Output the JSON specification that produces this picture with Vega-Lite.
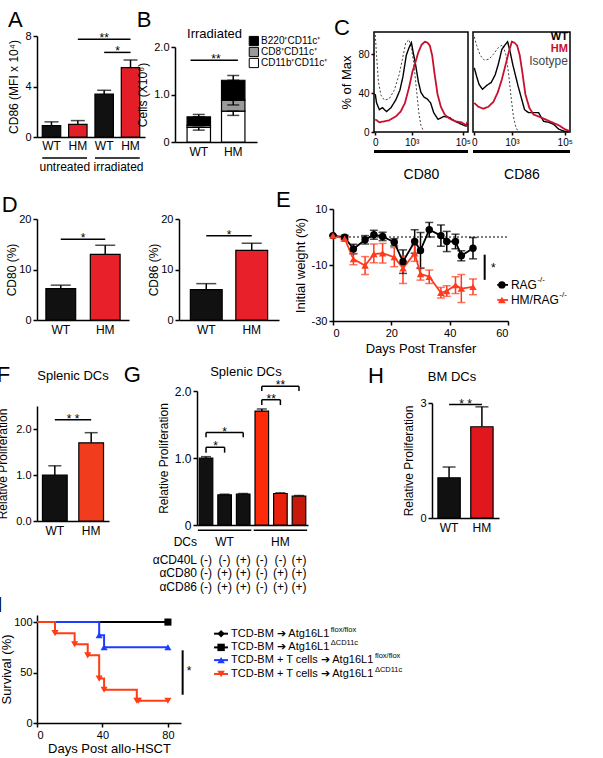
{
"$schema":"https://vega.github.io/schema/vega-lite/v6.json",
"background":"white",
"padding":{"left":-4,"top":0,"right":2,"bottom":2},
"config":{
 "font":"Liberation Sans",
 "view":{"stroke":null},
 "axis":{"domainColor":"black","domainWidth":1.5,"tickColor":"black","tickWidth":1.5,"tickSize":4,"labelColor":"black","labelFontSize":11,"labelFont":"Liberation Sans","titleFont":"Liberation Sans","titleFontSize":12,"titleFontWeight":"normal","titleColor":"black","grid":false,"labelPadding":2,"titlePadding":4},
 "axisX":{"labelAngle":0},
 "title":{"fontSize":22,"fontWeight":"normal","anchor":"start","color":"black","font":"Liberation Sans","offset":2},
 "bar":{"stroke":"black","strokeWidth":1.2},
 "text":{"font":"Liberation Sans","color":"black"},
 "tick":{"thickness":1.5,"color":"black"},
 "rule":{"color":"black","strokeWidth":1.5}
},
"datasets":{
 "hist":[
  {"p":"CD80","s":"Isotype","u":1.58,"v":100},{"p":"CD80","s":"Isotype","u":1.63,"v":79},{"p":"CD80","s":"Isotype","u":1.70,"v":52},{"p":"CD80","s":"Isotype","u":1.80,"v":38},{"p":"CD80","s":"Isotype","u":1.93,"v":33},{"p":"CD80","s":"Isotype","u":2.12,"v":34},{"p":"CD80","s":"Isotype","u":2.32,"v":43},{"p":"CD80","s":"Isotype","u":2.51,"v":59},{"p":"CD80","s":"Isotype","u":2.64,"v":75},{"p":"CD80","s":"Isotype","u":2.77,"v":92},{"p":"CD80","s":"Isotype","u":2.90,"v":95},{"p":"CD80","s":"Isotype","u":3.00,"v":85},{"p":"CD80","s":"Isotype","u":3.09,"v":69},{"p":"CD80","s":"Isotype","u":3.18,"v":46},{"p":"CD80","s":"Isotype","u":3.28,"v":20},{"p":"CD80","s":"Isotype","u":3.36,"v":7},{"p":"CD80","s":"Isotype","u":3.48,"v":0},
  {"p":"CD80","s":"WT","u":1.58,"v":39},{"p":"CD80","s":"WT","u":1.63,"v":30},{"p":"CD80","s":"WT","u":1.74,"v":23},{"p":"CD80","s":"WT","u":1.86,"v":25},{"p":"CD80","s":"WT","u":2.02,"v":21},{"p":"CD80","s":"WT","u":2.19,"v":25},{"p":"CD80","s":"WT","u":2.38,"v":33},{"p":"CD80","s":"WT","u":2.54,"v":43},{"p":"CD80","s":"WT","u":2.66,"v":57},{"p":"CD80","s":"WT","u":2.79,"v":79},{"p":"CD80","s":"WT","u":2.90,"v":87},{"p":"CD80","s":"WT","u":2.99,"v":92},{"p":"CD80","s":"WT","u":3.06,"v":82},{"p":"CD80","s":"WT","u":3.15,"v":70},{"p":"CD80","s":"WT","u":3.26,"v":52},{"p":"CD80","s":"WT","u":3.36,"v":41},{"p":"CD80","s":"WT","u":3.48,"v":36},{"p":"CD80","s":"WT","u":3.61,"v":34},{"p":"CD80","s":"WT","u":3.74,"v":30},{"p":"CD80","s":"WT","u":3.86,"v":20},{"p":"CD80","s":"WT","u":4.03,"v":13},{"p":"CD80","s":"WT","u":4.25,"v":16},{"p":"CD80","s":"WT","u":4.47,"v":15},{"p":"CD80","s":"WT","u":4.70,"v":11},{"p":"CD80","s":"WT","u":4.94,"v":8},{"p":"CD80","s":"WT","u":5.12,"v":6},{"p":"CD80","s":"WT","u":5.19,"v":9},
  {"p":"CD80","s":"HM","u":1.58,"v":13},{"p":"CD80","s":"HM","u":1.74,"v":10},{"p":"CD80","s":"HM","u":1.93,"v":11},{"p":"CD80","s":"HM","u":2.12,"v":12},{"p":"CD80","s":"HM","u":2.38,"v":16},{"p":"CD80","s":"HM","u":2.57,"v":21},{"p":"CD80","s":"HM","u":2.74,"v":30},{"p":"CD80","s":"HM","u":2.90,"v":46},{"p":"CD80","s":"HM","u":3.03,"v":62},{"p":"CD80","s":"HM","u":3.15,"v":72},{"p":"CD80","s":"HM","u":3.26,"v":82},{"p":"CD80","s":"HM","u":3.39,"v":90},{"p":"CD80","s":"HM","u":3.52,"v":93},{"p":"CD80","s":"HM","u":3.62,"v":92},{"p":"CD80","s":"HM","u":3.71,"v":89},{"p":"CD80","s":"HM","u":3.80,"v":79},{"p":"CD80","s":"HM","u":3.90,"v":59},{"p":"CD80","s":"HM","u":4.01,"v":39},{"p":"CD80","s":"HM","u":4.14,"v":26},{"p":"CD80","s":"HM","u":4.29,"v":18},{"p":"CD80","s":"HM","u":4.47,"v":14},{"p":"CD80","s":"HM","u":4.70,"v":11},{"p":"CD80","s":"HM","u":4.94,"v":10},{"p":"CD80","s":"HM","u":5.12,"v":7},{"p":"CD80","s":"HM","u":5.19,"v":11},
  {"p":"CD86","s":"Isotype","u":1.58,"v":98},{"p":"CD86","s":"Isotype","u":1.67,"v":89},{"p":"CD86","s":"Isotype","u":1.80,"v":79},{"p":"CD86","s":"Isotype","u":1.96,"v":74},{"p":"CD86","s":"Isotype","u":2.14,"v":75},{"p":"CD86","s":"Isotype","u":2.30,"v":80},{"p":"CD86","s":"Isotype","u":2.49,"v":87},{"p":"CD86","s":"Isotype","u":2.65,"v":90},{"p":"CD86","s":"Isotype","u":2.77,"v":80},{"p":"CD86","s":"Isotype","u":2.87,"v":62},{"p":"CD86","s":"Isotype","u":2.97,"v":36},{"p":"CD86","s":"Isotype","u":3.06,"v":16},{"p":"CD86","s":"Isotype","u":3.15,"v":5},{"p":"CD86","s":"Isotype","u":3.25,"v":0},
  {"p":"CD86","s":"WT","u":1.58,"v":66},{"p":"CD86","s":"WT","u":1.67,"v":57},{"p":"CD86","s":"WT","u":1.76,"v":49},{"p":"CD86","s":"WT","u":1.89,"v":44},{"p":"CD86","s":"WT","u":2.05,"v":48},{"p":"CD86","s":"WT","u":2.22,"v":51},{"p":"CD86","s":"WT","u":2.37,"v":59},{"p":"CD86","s":"WT","u":2.49,"v":70},{"p":"CD86","s":"WT","u":2.62,"v":85},{"p":"CD86","s":"WT","u":2.75,"v":90},{"p":"CD86","s":"WT","u":2.84,"v":93},{"p":"CD86","s":"WT","u":2.94,"v":82},{"p":"CD86","s":"WT","u":3.03,"v":70},{"p":"CD86","s":"WT","u":3.13,"v":59},{"p":"CD86","s":"WT","u":3.23,"v":48},{"p":"CD86","s":"WT","u":3.35,"v":36},{"p":"CD86","s":"WT","u":3.48,"v":23},{"p":"CD86","s":"WT","u":3.63,"v":20},{"p":"CD86","s":"WT","u":3.82,"v":20},{"p":"CD86","s":"WT","u":4.01,"v":20},{"p":"CD86","s":"WT","u":4.20,"v":11},{"p":"CD86","s":"WT","u":4.39,"v":10},{"p":"CD86","s":"WT","u":4.58,"v":8},{"p":"CD86","s":"WT","u":4.77,"v":3},{"p":"CD86","s":"WT","u":4.96,"v":1},{"p":"CD86","s":"WT","u":5.15,"v":0},
  {"p":"CD86","s":"HM","u":1.58,"v":30},{"p":"CD86","s":"HM","u":1.73,"v":26},{"p":"CD86","s":"HM","u":1.92,"v":24},{"p":"CD86","s":"HM","u":2.11,"v":26},{"p":"CD86","s":"HM","u":2.30,"v":31},{"p":"CD86","s":"HM","u":2.47,"v":41},{"p":"CD86","s":"HM","u":2.62,"v":54},{"p":"CD86","s":"HM","u":2.77,"v":70},{"p":"CD86","s":"HM","u":2.90,"v":84},{"p":"CD86","s":"HM","u":3.00,"v":93},{"p":"CD86","s":"HM","u":3.10,"v":92},{"p":"CD86","s":"HM","u":3.20,"v":89},{"p":"CD86","s":"HM","u":3.30,"v":79},{"p":"CD86","s":"HM","u":3.41,"v":59},{"p":"CD86","s":"HM","u":3.51,"v":39},{"p":"CD86","s":"HM","u":3.66,"v":25},{"p":"CD86","s":"HM","u":3.82,"v":18},{"p":"CD86","s":"HM","u":4.01,"v":16},{"p":"CD86","s":"HM","u":4.27,"v":13},{"p":"CD86","s":"HM","u":4.52,"v":10},{"p":"CD86","s":"HM","u":4.77,"v":7},{"p":"CD86","s":"HM","u":5.00,"v":3},{"p":"CD86","s":"HM","u":5.18,"v":1}
 ],
 "E":[
  {"s":"RAG","d":0,"v":0.5,"lo":0.5,"hi":0.5},{"s":"RAG","d":4,"v":-0.1,"lo":-0.8,"hi":0.6},{"s":"RAG","d":7,"v":-4.3,"lo":-6.0,"hi":-2.6},{"s":"RAG","d":11,"v":-1.0,"lo":-2.5,"hi":0.5},{"s":"RAG","d":14,"v":0.8,"lo":-0.8,"hi":2.4},{"s":"RAG","d":17,"v":0.2,"lo":-1.3,"hi":1.7},{"s":"RAG","d":21,"v":-1.9,"lo":-3.2,"hi":-0.6},{"s":"RAG","d":24,"v":-8.8,"lo":-13.0,"hi":-4.6},{"s":"RAG","d":28,"v":-1.6,"lo":-5.8,"hi":2.6},{"s":"RAG","d":30,"v":-4.8,"lo":-11.2,"hi":1.6},{"s":"RAG","d":33,"v":2.6,"lo":0.0,"hi":5.2},{"s":"RAG","d":37,"v":0.5,"lo":-3.3,"hi":4.3},{"s":"RAG","d":39,"v":-1.6,"lo":-5.2,"hi":2.0},{"s":"RAG","d":42,"v":-1.6,"lo":-4.2,"hi":1.0},{"s":"RAG","d":44,"v":-6.7,"lo":-8.5,"hi":-4.9},{"s":"RAG","d":48,"v":-4.0,"lo":-7.8,"hi":-0.2},
  {"s":"HM/RAG","d":0,"v":0.5,"lo":0.5,"hi":0.5},{"s":"HM/RAG","d":4,"v":-0.6,"lo":-1.4,"hi":0.2},{"s":"HM/RAG","d":7,"v":-7.9,"lo":-9.9,"hi":-5.9},{"s":"HM/RAG","d":11,"v":-10.2,"lo":-13.4,"hi":-7.0},{"s":"HM/RAG","d":14,"v":-6.1,"lo":-9.2,"hi":-2.5},{"s":"HM/RAG","d":17,"v":-5.8,"lo":-9.3,"hi":-2.3},{"s":"HM/RAG","d":21,"v":-7.2,"lo":-10.6,"hi":-3.8},{"s":"HM/RAG","d":24,"v":-11.2,"lo":-16.6,"hi":-6.8},{"s":"HM/RAG","d":28,"v":-5.8,"lo":-8.7,"hi":-2.9},{"s":"HM/RAG","d":30,"v":-13.2,"lo":-15.4,"hi":-11.0},{"s":"HM/RAG","d":33,"v":-14.2,"lo":-16.6,"hi":-11.8},{"s":"HM/RAG","d":37,"v":-19.9,"lo":-21.8,"hi":-18.0},{"s":"HM/RAG","d":39,"v":-19.3,"lo":-21.2,"hi":-17.4},{"s":"HM/RAG","d":42,"v":-17.2,"lo":-20.2,"hi":-14.2},{"s":"HM/RAG","d":44,"v":-18.4,"lo":-23.4,"hi":-13.4},{"s":"HM/RAG","d":48,"v":-17.8,"lo":-20.6,"hi":-15.0}
 ],
 "I":[
  {"g":"BMf","d":0,"s":100},{"g":"BMf","d":80,"s":100},
  {"g":"BMd","d":0,"s":100},{"g":"BMd","d":80,"s":100},
  {"g":"Tf","d":0,"s":100},{"g":"Tf","d":38,"s":87},{"g":"Tf","d":41,"s":75},{"g":"Tf","d":80,"s":75},
  {"g":"Td","d":0,"s":100},{"g":"Td","d":11,"s":89},{"g":"Td","d":23,"s":78},{"g":"Td","d":31,"s":67},{"g":"Td","d":38,"s":44},{"g":"Td","d":41,"s":33},{"g":"Td","d":61,"s":22},{"g":"Td","d":62,"s":22},{"g":"Td","d":80,"s":22}
 ],
 "empty":[]
},
"resolve":{"scale":{"color":"independent","shape":"independent","strokeDash":"independent","strokeWidth":"independent"},"legend":{"color":"independent","shape":"independent","strokeDash":"independent","strokeWidth":"independent"}},
"spacing":8,
"vconcat":[
 {"spacing":-11,
  "resolve":{"scale":{"color":"independent","shape":"independent","strokeDash":"independent","strokeWidth":"independent"},"legend":{"color":"independent","shape":"independent","strokeDash":"independent","strokeWidth":"independent"}},
  "vconcat":[
  {"spacing":-9,
   "resolve":{"scale":{"color":"independent","shape":"independent","strokeDash":"independent","strokeWidth":"independent"},"legend":{"color":"independent","shape":"independent","strokeDash":"independent","strokeWidth":"independent"}},
   "hconcat":[
   {"spacing":8,
    "vconcat":[
     {"width":1,"height":1,"data":{"name":"empty"},"mark":"point"},
     {"title":{"text":"A","offset":-2},
      "width":108,"height":101,
      "data":{"values":[{"bar":"uWT","g":"WT","v":0.9,"err":1.2},{"bar":"uHM","g":"HM","v":1.0,"err":1.3},{"bar":"iWT","g":"WT","v":3.4,"err":3.7},{"bar":"iHM","g":"HM","v":5.5,"err":6.1}]},
      "layer":[
       {"mark":{"type":"rule"},"encoding":{
         "x":{"field":"bar","type":"nominal","bandPosition":0.5,"scale":{"domain":["uWT","uHM","iWT","iHM"],"paddingInner":0.3,"paddingOuter":0.2},"axis":{"labelExpr":"substring(datum.label, 1)","title":"untreated irradiated","titlePadding":10,"labelFontSize":12,"titleFontSize":12,"ticks":false,"labelPadding":3}},
         "y":{"field":"v","type":"quantitative","scale":{"domain":[0,8]},"axis":{"title":"CD86 (MFI x 10⁴)","values":[0,2,4,6,8]}},
         "y2":{"field":"err"}}},
       {"mark":{"type":"tick","size":14},"encoding":{
         "x":{"field":"bar","type":"nominal","scale":{"domain":["uWT","uHM","iWT","iHM"]}},
         "y":{"field":"err","type":"quantitative","scale":{"domain":[0,8]}}}},
       {"mark":{"type":"bar"},"encoding":{
         "x":{"field":"bar","type":"nominal","scale":{"domain":["uWT","uHM","iWT","iHM"]}},
         "y":{"field":"v","type":"quantitative","scale":{"domain":[0,8]}},
         "color":{"field":"g","type":"nominal","scale":{"domain":["WT","HM"],"range":["#111111","#e31e26"]},"legend":null}}},
       {"data":{"values":[{"b1":"uWT","b2":"uHM"},{"b1":"iWT","b2":"iHM"}]},"mark":{"type":"rule"},"encoding":{
         "x":{"field":"b1","type":"nominal","bandPosition":0,"scale":{"domain":["uWT","uHM","iWT","iHM"]}},
         "x2":{"field":"b2","bandPosition":1},
         "y":{"datum":-1.67}}},
       {"data":{"values":[{"b1":"uHM","b2":"iHM","y":7.75},{"b1":"iWT","b2":"iHM","y":6.7}]},"mark":{"type":"rule"},"encoding":{
         "x":{"field":"b1","type":"nominal","bandPosition":0.5,"scale":{"domain":["uWT","uHM","iWT","iHM"]}},
         "x2":{"field":"b2","bandPosition":0.5},
         "y":{"field":"y","type":"quantitative","scale":{"domain":[0,8]}}}},
       {"data":{"values":[{"b":"iWT","t":"**","y":7.75}]},"mark":{"type":"text","fontSize":12,"baseline":"alphabetic","dy":3},"encoding":{
         "x":{"field":"b","type":"nominal","bandPosition":0.5,"scale":{"domain":["uWT","uHM","iWT","iHM"]}},
         "y":{"field":"y","type":"quantitative","scale":{"domain":[0,8]}},
         "text":{"field":"t"}}},
       {"data":{"values":[{"b":"iHM","t":"*","y":6.7}]},"mark":{"type":"text","fontSize":12,"baseline":"alphabetic","dy":3},"encoding":{
         "x":{"field":"b","type":"nominal","bandPosition":-0.2,"scale":{"domain":["uWT","uHM","iWT","iHM"]}},
         "y":{"field":"y","type":"quantitative","scale":{"domain":[0,8]}},
         "text":{"field":"t"}}}
      ]}
    ]},
   {"spacing":5,
    "resolve":{"scale":{"color":"independent","shape":"independent","strokeDash":"independent","strokeWidth":"independent"},"legend":{"color":"independent","shape":"independent","strokeDash":"independent","strokeWidth":"independent"}},
    "hconcat":[
    {"spacing":8,
     "vconcat":[
      {"width":1,"height":1,"data":{"name":"empty"},"mark":"point"},
      {"title":{"text":"B","offset":-4},
       "width":82,"height":95,
       "layer":[
        {"data":{"values":[{"g":"WT","pop":"CD11b⁺CD11c⁺","lvl":1,"v":0.31},{"g":"WT","pop":"CD8⁺CD11c⁺","lvl":2,"v":0.04},{"g":"WT","pop":"B220⁺CD11c⁺","lvl":3,"v":0.18},{"g":"HM","pop":"CD11b⁺CD11c⁺","lvl":1,"v":0.65},{"g":"HM","pop":"CD8⁺CD11c⁺","lvl":2,"v":0.23},{"g":"HM","pop":"B220⁺CD11c⁺","lvl":3,"v":0.42}]},
         "mark":{"type":"bar"},
         "encoding":{
          "x":{"field":"g","type":"nominal","scale":{"domain":["WT","HM"],"paddingInner":0.32,"paddingOuter":0.35},"axis":{"title":null,"labelFontSize":12,"ticks":false,"labelPadding":4}},
          "y":{"field":"v","type":"quantitative","stack":"zero","scale":{"domain":[0,2]},"axis":{"title":"Cells (X10⁶)","values":[0,0.5,1,1.5,2],"labelExpr":"datum.value == 0 ? '0' : format(datum.value, '.1f')"}},
          "order":{"field":"lvl","type":"quantitative","sort":"ascending"},
          "color":{"field":"pop","type":"nominal","scale":{"domain":["B220⁺CD11c⁺","CD8⁺CD11c⁺","CD11b⁺CD11c⁺"],"range":["#000000","#9a9a9a","#ffffff"]},"legend":null}}},
        {"data":{"values":[{"g":"WT","lo":0.53,"hi":0.58},{"g":"WT","lo":0.25,"hi":0.31},{"g":"HM","lo":1.30,"hi":1.40},{"g":"HM","lo":0.56,"hi":0.65},{"g":"HM","lo":0.78,"hi":0.88}]},
         "layer":[
          {"mark":{"type":"rule"},"encoding":{"x":{"field":"g","type":"nominal","bandPosition":0.5,"scale":{"domain":["WT","HM"]}},"y":{"field":"lo","type":"quantitative","scale":{"domain":[0,2]}},"y2":{"field":"hi"}}},
          {"mark":{"type":"tick","size":12},"encoding":{"x":{"field":"g","type":"nominal","scale":{"domain":["WT","HM"]}},"y":{"field":"lo","type":"quantitative","scale":{"domain":[0,2]}}}},
          {"mark":{"type":"tick","size":12},"encoding":{"x":{"field":"g","type":"nominal","scale":{"domain":["WT","HM"]}},"y":{"field":"hi","type":"quantitative","scale":{"domain":[0,2]}}}}
         ]},
        {"data":{"values":[{"b1":"WT","b2":"HM","y":1.72}]},"mark":{"type":"rule"},"encoding":{
          "x":{"field":"b1","type":"nominal","bandPosition":0.15,"scale":{"domain":["WT","HM"]}},
          "x2":{"field":"b2","bandPosition":0.7},
          "y":{"field":"y","type":"quantitative","scale":{"domain":[0,2]}}}},
        {"data":{"values":[{"t":"**","y":1.72}]},"mark":{"type":"text","fontSize":12,"baseline":"alphabetic","dy":3},"encoding":{
          "y":{"field":"y","type":"quantitative","scale":{"domain":[0,2]}},"text":{"field":"t"}}},
        {"data":{"values":[{"b":"WT","t":"Irradiated","y":2.27}]},"mark":{"type":"text","fontSize":13,"align":"left"},"encoding":{
          "x":{"field":"b","type":"nominal","bandPosition":0,"scale":{"domain":["WT","HM"]}},
          "y":{"field":"y","type":"quantitative","scale":{"domain":[0,2]}},"text":{"field":"t"}}},
        {"data":{"values":[{"b":"HM"}]},"mark":{"type":"point","shape":"square","filled":true,"size":85,"fill":"#000000","stroke":"black","strokeWidth":1,"opacity":1},"encoding":{"x":{"field":"b","type":"nominal","bandPosition":1.38,"scale":{"domain":["WT","HM"]}},"y":{"datum":2.126}}},
        {"data":{"values":[{"b":"HM"}]},"mark":{"type":"point","shape":"square","filled":true,"size":85,"fill":"#9a9a9a","stroke":"black","strokeWidth":1,"opacity":1},"encoding":{"x":{"field":"b","type":"nominal","bandPosition":1.38,"scale":{"domain":["WT","HM"]}},"y":{"datum":1.895}}},
        {"data":{"values":[{"b":"HM"}]},"mark":{"type":"point","shape":"square","filled":true,"size":85,"fill":"#ffffff","stroke":"black","strokeWidth":1,"opacity":1},"encoding":{"x":{"field":"b","type":"nominal","bandPosition":1.38,"scale":{"domain":["WT","HM"]}},"y":{"datum":1.663}}},
        {"data":{"values":[{"b":"HM","t":"B220⁺CD11c⁺"}]},"mark":{"type":"text","fontSize":10,"align":"left"},"encoding":{"x":{"field":"b","type":"nominal","bandPosition":1.69,"scale":{"domain":["WT","HM"]}},"y":{"datum":2.126},"text":{"field":"t"}}},
        {"data":{"values":[{"b":"HM","t":"CD8⁺CD11c⁺"}]},"mark":{"type":"text","fontSize":10,"align":"left"},"encoding":{"x":{"field":"b","type":"nominal","bandPosition":1.69,"scale":{"domain":["WT","HM"]}},"y":{"datum":1.895},"text":{"field":"t"}}},
        {"data":{"values":[{"b":"HM","t":"CD11b⁺CD11c⁺"}]},"mark":{"type":"text","fontSize":10,"align":"left"},"encoding":{"x":{"field":"b","type":"nominal","bandPosition":1.69,"scale":{"domain":["WT","HM"]}},"y":{"datum":1.663},"text":{"field":"t"}}}
       ]}
     ]},
    {"spacing":15,
     "vconcat":[
      {"width":1,"height":1,"data":{"name":"empty"},"mark":"point"},
      {"spacing":-5,
       "resolve":{"scale":{"color":"independent","shape":"independent","strokeDash":"independent","strokeWidth":"independent"},"legend":{"color":"independent","shape":"independent","strokeDash":"independent","strokeWidth":"independent"}},
       "hconcat":[
        {"title":{"text":"C","dx":-7,"offset":-8},
         "width":94,"height":100,
         "view":{"stroke":"black","strokeWidth":1.5},
         "layer":[
          {"data":{"name":"hist"},"transform":[{"filter":"datum.p == 'CD80'"}],
           "mark":{"type":"line"},
           "encoding":{
            "x":{"field":"u","type":"quantitative","scale":{"domain":[1.53,5.2],"nice":false,"zero":false},"axis":{"values":[1.58,1.93,3,4,5],"labelExpr":"datum.value < 1.7 ? '0' : datum.value < 2.5 ? '10²' : datum.value < 3.5 ? '10³' : datum.value < 4.5 ? '10⁴' : '10⁵'","title":"CD80","titleFontSize":14,"titlePadding":20,"labelFontSize":10,"tickSize":3,"domain":false,"labelOverlap":false,"labelFlush":false}},
            "y":{"field":"v","type":"quantitative","scale":{"domain":[0,103],"nice":false},"axis":{"values":[0,20,40,60,80,100],"title":"% of Max","titleFontSize":13,"labelFontSize":10,"tickSize":3,"domain":false}},
            "color":{"field":"s","type":"nominal","scale":{"domain":["Isotype","WT","HM"],"range":["#444444","#000000","#c8102e"]},"legend":null},
            "strokeDash":{"field":"s","type":"nominal","scale":{"domain":["Isotype","WT","HM"],"range":[[2,2],[1,0],[1,0]]},"legend":null},
            "strokeWidth":{"field":"s","type":"nominal","scale":{"domain":["Isotype","WT","HM"],"range":[1,1.8,1.8]},"legend":null}}},
          {"data":{"values":[{}]},"mark":{"type":"rule","strokeWidth":3},"encoding":{"x":{"datum":1.53},"x2":{"datum":5.2},"y":{"datum":-20}}}
         ]},
        {"width":97,"height":100,
         "view":{"stroke":"black","strokeWidth":1.5},
         "layer":[
          {"data":{"name":"hist"},"transform":[{"filter":"datum.p == 'CD86'"}],
           "mark":{"type":"line"},
           "encoding":{
            "x":{"field":"u","type":"quantitative","scale":{"domain":[1.53,5.2],"nice":false,"zero":false},"axis":{"values":[1.58,1.93,3,4,5],"labelExpr":"datum.value < 1.7 ? '0' : datum.value < 2.5 ? '10²' : datum.value < 3.5 ? '10³' : datum.value < 4.5 ? '10⁴' : '10⁵'","title":"CD86","titleFontSize":14,"titlePadding":20,"labelFontSize":10,"tickSize":3,"domain":false,"labelOverlap":false,"labelFlush":false}},
            "y":{"field":"v","type":"quantitative","scale":{"domain":[0,103],"nice":false},"axis":null},
            "color":{"field":"s","type":"nominal","scale":{"domain":["Isotype","WT","HM"],"range":["#444444","#000000","#c8102e"]},"legend":null},
            "strokeDash":{"field":"s","type":"nominal","scale":{"domain":["Isotype","WT","HM"],"range":[[2,2],[1,0],[1,0]]},"legend":null},
            "strokeWidth":{"field":"s","type":"nominal","scale":{"domain":["Isotype","WT","HM"],"range":[1,1.8,1.8]},"legend":null}}},
          {"data":{"values":[{}]},"mark":{"type":"rule","strokeWidth":3},"encoding":{"x":{"datum":1.53},"x2":{"datum":5.2},"y":{"datum":-20}}},
          {"data":{"values":[{"s":"WT","v":98},{"s":"HM","v":86}]},"mark":{"type":"text","align":"right","fontWeight":"bold","fontSize":11},"encoding":{"x":{"datum":5.12},"y":{"field":"v","type":"quantitative","scale":{"domain":[0,103],"nice":false}},"text":{"field":"s"},"color":{"field":"s","type":"nominal","scale":{"domain":["Isotype","WT","HM"],"range":["#444444","#000000","#c8102e"]},"legend":null}}},
          {"data":{"values":[{"s":"Isotype","v":73}]},"mark":{"type":"text","align":"right","fontSize":12},"encoding":{"x":{"datum":5.12},"y":{"field":"v","type":"quantitative","scale":{"domain":[0,103],"nice":false}},"text":{"field":"s"},"color":{"field":"s","type":"nominal","scale":{"domain":["Isotype","WT","HM"],"range":["#444444","#000000","#c8102e"]},"legend":null}}}
         ]}
       ]}
     ]}
   ]}
  ]},
  {"spacing":-3,
   "resolve":{"scale":{"color":"independent","shape":"independent","strokeDash":"independent","strokeWidth":"independent"},"legend":{"color":"independent","shape":"independent","strokeDash":"independent","strokeWidth":"independent"}},
   "hconcat":[
   {"spacing":11,
    "vconcat":[
     {"width":1,"height":1,"data":{"name":"empty"},"mark":"point"},
     {"spacing":18,
      "hconcat":[
       {"title":{"text":"D","dx":-4,"offset":-4},
        "width":92,"height":101,
        "data":{"values":[{"g":"WT","v":6.2,"err":6.9},{"g":"HM","v":13.0,"err":14.8}]},
        "layer":[
         {"mark":{"type":"rule"},"encoding":{"x":{"field":"g","type":"nominal","bandPosition":0.5,"scale":{"domain":["WT","HM"],"paddingInner":0.33,"paddingOuter":0.2},"axis":{"title":null,"labelFontSize":12,"ticks":false,"labelPadding":4}},"y":{"field":"v","type":"quantitative","scale":{"domain":[0,20]},"axis":{"title":"CD80 (%)","values":[0,5,10,15,20],"titlePadding":0}},"y2":{"field":"err"}}},
         {"mark":{"type":"tick","size":20},"encoding":{"x":{"field":"g","type":"nominal","scale":{"domain":["WT","HM"]}},"y":{"field":"err","type":"quantitative","scale":{"domain":[0,20]}}}},
         {"mark":{"type":"bar"},"encoding":{"x":{"field":"g","type":"nominal","scale":{"domain":["WT","HM"]}},"y":{"field":"v","type":"quantitative","scale":{"domain":[0,20]}},"color":{"field":"g","type":"nominal","scale":{"domain":["WT","HM"],"range":["#111111","#e8202a"]},"legend":null}}},
         {"data":{"values":[{"b1":"WT","b2":"HM","y":16.0}]},"mark":{"type":"rule"},"encoding":{"x":{"field":"b1","type":"nominal","bandPosition":0.5,"scale":{"domain":["WT","HM"]}},"x2":{"field":"b2","bandPosition":0.5},"y":{"field":"y","type":"quantitative","scale":{"domain":[0,20]}}}},
         {"data":{"values":[{"t":"*","y":16.0}]},"mark":{"type":"text","fontSize":12,"baseline":"alphabetic","dy":3},"encoding":{"y":{"field":"y","type":"quantitative","scale":{"domain":[0,20]}},"text":{"field":"t"}}}
        ]},
       {"width":100,"height":101,
        "data":{"values":[{"g":"WT","v":6.0,"err":7.2},{"g":"HM","v":13.8,"err":15.2}]},
        "layer":[
         {"mark":{"type":"rule"},"encoding":{"x":{"field":"g","type":"nominal","bandPosition":0.5,"scale":{"domain":["WT","HM"],"paddingInner":0.3,"paddingOuter":0.25},"axis":{"title":null,"labelFontSize":12,"ticks":false,"labelPadding":4}},"y":{"field":"v","type":"quantitative","scale":{"domain":[0,20]},"axis":{"title":"CD86 (%)","values":[0,5,10,15,20],"titlePadding":0}},"y2":{"field":"err"}}},
         {"mark":{"type":"tick","size":20},"encoding":{"x":{"field":"g","type":"nominal","scale":{"domain":["WT","HM"]}},"y":{"field":"err","type":"quantitative","scale":{"domain":[0,20]}}}},
         {"mark":{"type":"bar"},"encoding":{"x":{"field":"g","type":"nominal","scale":{"domain":["WT","HM"]}},"y":{"field":"v","type":"quantitative","scale":{"domain":[0,20]}},"color":{"field":"g","type":"nominal","scale":{"domain":["WT","HM"],"range":["#111111","#e8202a"]},"legend":null}}},
         {"data":{"values":[{"b1":"WT","b2":"HM","y":16.7}]},"mark":{"type":"rule"},"encoding":{"x":{"field":"b1","type":"nominal","bandPosition":0.5,"scale":{"domain":["WT","HM"]}},"x2":{"field":"b2","bandPosition":0.5},"y":{"field":"y","type":"quantitative","scale":{"domain":[0,20]}}}},
         {"data":{"values":[{"t":"*","y":16.7}]},"mark":{"type":"text","fontSize":12,"baseline":"alphabetic","dy":3},"encoding":{"y":{"field":"y","type":"quantitative","scale":{"domain":[0,20]}},"text":{"field":"t"}}}
        ]}
      ]}
    ]},
   {"spacing":6,
    "vconcat":[
     {"width":1,"height":1,"data":{"name":"empty"},"mark":"point"},
     {"title":{"text":"E","dx":-18,"offset":-9},
      "width":175,"height":112,
      "layer":[
       {"data":{"values":[{}]},"mark":{"type":"rule","strokeDash":[2,2],"strokeWidth":1},
        "encoding":{"x":{"datum":0,"type":"quantitative","scale":{"domain":[0,60]},"axis":{"values":[0,20,40,60],"title":"Days Post Transfer","titleFontSize":13}},"x2":{"datum":60},
         "y":{"datum":0,"type":"quantitative","scale":{"domain":[-30,10]},"axis":{"values":[-30,-20,-10,0,10],"title":"Initial weight (%)","titleFontSize":13,"labelExpr":"datum.value + ''"}}}},
       {"data":{"name":"E"},
        "encoding":{"x":{"field":"d","type":"quantitative","scale":{"domain":[0,60]}},
         "color":{"field":"s","type":"nominal","scale":{"domain":["RAG","HM/RAG"],"range":["#000000","#ff3b1f"]},"legend":null}},
        "layer":[
         {"mark":{"type":"rule","strokeWidth":1.5},"encoding":{"y":{"field":"lo","type":"quantitative","scale":{"domain":[-30,10]}},"y2":{"field":"hi"}}},
         {"mark":{"type":"tick","orient":"horizontal","size":8,"thickness":1.5},"encoding":{"y":{"field":"lo","type":"quantitative","scale":{"domain":[-30,10]}}}},
         {"mark":{"type":"tick","orient":"horizontal","size":8,"thickness":1.5},"encoding":{"y":{"field":"hi","type":"quantitative","scale":{"domain":[-30,10]}}}},
         {"mark":{"type":"line","strokeWidth":1.8},"encoding":{"y":{"field":"v","type":"quantitative","scale":{"domain":[-30,10]}}}},
         {"mark":{"type":"point","filled":true,"size":55,"opacity":1},"encoding":{"y":{"field":"v","type":"quantitative","scale":{"domain":[-30,10]}},"shape":{"field":"s","type":"nominal","scale":{"domain":["RAG","HM/RAG"],"range":["circle","triangle-up"]},"legend":null}}}
        ]},
       {"data":{"values":[{}]},"mark":{"type":"rule","strokeWidth":2},"encoding":{"x":{"datum":52},"y":{"datum":-6.3},"y2":{"datum":-15.3}}},
       {"data":{"values":[{}]},"mark":{"type":"text","text":"*","fontSize":12},"encoding":{"x":{"datum":55},"y":{"datum":-11}}},
       {"data":{"values":[{}]},"mark":{"type":"rule","strokeWidth":1.8,"color":"#000000"},"encoding":{"x":{"datum":56.3},"x2":{"datum":60},"y":{"datum":-17.1}}},
       {"data":{"values":[{}]},"mark":{"type":"point","shape":"circle","filled":true,"size":55,"color":"#000000","opacity":1},"encoding":{"x":{"datum":57.9},"y":{"datum":-17.1}}},
       {"data":{"values":[{}]},"mark":{"type":"text","text":"RAG","fontSize":12,"align":"left"},"encoding":{"x":{"datum":61},"y":{"datum":-17.1}}},
       {"data":{"values":[{}]},"mark":{"type":"text","text":"-/-","fontSize":8,"align":"left","dy":-5},"encoding":{"x":{"datum":70.1},"y":{"datum":-17.1}}},
       {"data":{"values":[{}]},"mark":{"type":"rule","strokeWidth":1.8,"color":"#ff3b1f"},"encoding":{"x":{"datum":56.3},"x2":{"datum":60},"y":{"datum":-22.5}}},
       {"data":{"values":[{}]},"mark":{"type":"point","shape":"triangle-up","filled":true,"size":60,"color":"#ff3b1f","opacity":1},"encoding":{"x":{"datum":57.9},"y":{"datum":-22.5}}},
       {"data":{"values":[{}]},"mark":{"type":"text","text":"HM/RAG","fontSize":12,"align":"left"},"encoding":{"x":{"datum":61},"y":{"datum":-22.5}}},
       {"data":{"values":[{}]},"mark":{"type":"text","text":"-/-","fontSize":8,"align":"left","dy":-5},"encoding":{"x":{"datum":77.6},"y":{"datum":-22.5}}}
      ]}
    ]}
  ]}
 ]},
 {"spacing":-12,
  "resolve":{"scale":{"color":"independent","shape":"independent","strokeDash":"independent","strokeWidth":"independent"},"legend":{"color":"independent","shape":"independent","strokeDash":"independent","strokeWidth":"independent"}},
  "vconcat":[
   {"spacing":59,
    "resolve":{"scale":{"color":"independent","shape":"independent","strokeDash":"independent","strokeWidth":"independent"},"legend":{"color":"independent","shape":"independent","strokeDash":"independent","strokeWidth":"independent"}},
    "hconcat":[
    {"spacing":14,
     "resolve":{"scale":{"color":"independent","shape":"independent","strokeDash":"independent","strokeWidth":"independent"},"legend":{"color":"independent","shape":"independent","strokeDash":"independent","strokeWidth":"independent"}},
     "hconcat":[
     {"spacing":0,
      "vconcat":[
       {"width":1,"height":1,"data":{"name":"empty"},"mark":"point"},
       {"title":{"text":"F","offset":-17},
        "width":72,"height":115,
        "data":{"values":[{"g":"WT","v":1.0,"err":1.2},{"g":"HM","v":1.7,"err":1.92}]},
        "layer":[
         {"mark":{"type":"rule"},"encoding":{"x":{"field":"g","type":"nominal","bandPosition":0.5,"scale":{"domain":["WT","HM"],"paddingInner":0.32,"paddingOuter":0.15},"axis":{"title":null,"labelFontSize":12,"ticks":false,"labelPadding":4}},"y":{"field":"v","type":"quantitative","scale":{"domain":[0,2.5]},"axis":{"title":"Relative Proliferation","titlePadding":6,"values":[0,0.5,1,1.5,2,2.5],"labelExpr":"format(datum.value, '.1f')"}},"y2":{"field":"err"}}},
         {"mark":{"type":"tick","size":13},"encoding":{"x":{"field":"g","type":"nominal","scale":{"domain":["WT","HM"]}},"y":{"field":"err","type":"quantitative","scale":{"domain":[0,2.5]}}}},
         {"mark":{"type":"bar"},"encoding":{"x":{"field":"g","type":"nominal","scale":{"domain":["WT","HM"]}},"y":{"field":"v","type":"quantitative","scale":{"domain":[0,2.5]}},"color":{"field":"g","type":"nominal","scale":{"domain":["WT","HM"],"range":["#111111","#f23c1e"]},"legend":null}}},
         {"data":{"values":[{"b1":"WT","b2":"HM","y":2.2}]},"mark":{"type":"rule"},"encoding":{"x":{"field":"b1","type":"nominal","bandPosition":0.5,"scale":{"domain":["WT","HM"]}},"x2":{"field":"b2","bandPosition":0.5},"y":{"field":"y","type":"quantitative","scale":{"domain":[0,2.5]}}}},
         {"data":{"values":[{"t":"* *","y":2.2}]},"mark":{"type":"text","fontSize":12,"baseline":"alphabetic","dy":3},"encoding":{"y":{"field":"y","type":"quantitative","scale":{"domain":[0,2.5]}},"text":{"field":"t"}}},
         {"data":{"values":[{"t":"Splenic DCs","y":3.15}]},"mark":{"type":"text","fontSize":13},"encoding":{"y":{"field":"y","type":"quantitative","scale":{"domain":[0,2.5]}},"text":{"field":"t"}}}
        ]}
      ]},
     {"spacing":0,
      "vconcat":[
       {"width":1,"height":1,"data":{"name":"empty"},"mark":"point"},
       {"title":{"text":"G","dx":-29,"offset":-21},
        "width":111,"height":134,
        "data":{"values":[{"bar":"W1","v":1.0,"err":1.02,"c40":"(-)","c80":"(-)","c86":"(-)"},{"bar":"W2","v":0.45,"err":0.46,"c40":"(-)","c80":"(+)","c86":"(+)"},{"bar":"W3","v":0.46,"err":0.47,"c40":"(+)","c80":"(+)","c86":"(+)"},{"bar":"H1","v":1.70,"err":1.73,"c40":"(-)","c80":"(-)","c86":"(-)"},{"bar":"H2","v":0.47,"err":0.48,"c40":"(-)","c80":"(+)","c86":"(+)"},{"bar":"H3","v":0.43,"err":0.44,"c40":"(+)","c80":"(+)","c86":"(+)"}]},
        "layer":[
         {"mark":{"type":"rule"},"encoding":{"x":{"field":"bar","type":"nominal","bandPosition":0.5,"scale":{"domain":["W1","W2","W3","H1","H2","H3"],"paddingInner":0.27,"paddingOuter":0.12},"axis":{"title":null,"labels":false,"ticks":false}},"y":{"field":"v","type":"quantitative","scale":{"domain":[0,2]},"axis":{"title":"Relative Proliferation","values":[0,0.5,1,1.5,2],"labelExpr":"datum.value == 0 ? '0' : format(datum.value, '.1f')","labelFontSize":12}},"y2":{"field":"err"}}},
         {"mark":{"type":"tick","size":10},"encoding":{"x":{"field":"bar","type":"nominal","scale":{"domain":["W1","W2","W3","H1","H2","H3"]}},"y":{"field":"err","type":"quantitative","scale":{"domain":[0,2]}}}},
         {"mark":{"type":"bar"},"encoding":{"x":{"field":"bar","type":"nominal","scale":{"domain":["W1","W2","W3","H1","H2","H3"]}},"y":{"field":"v","type":"quantitative","scale":{"domain":[0,2]}},"color":{"field":"bar","type":"nominal","scale":{"domain":["W1","W2","W3","H1","H2","H3"],"range":["#111111","#111111","#111111","#ff2a0a","#e8200c","#c81a0a"]},"legend":null}}},
         {"mark":{"type":"text","fontSize":12},"encoding":{"x":{"field":"bar","type":"nominal","bandPosition":0.5,"scale":{"domain":["W1","W2","W3","H1","H2","H3"]}},"y":{"datum":-0.52},"text":{"field":"c40"}}},
         {"mark":{"type":"text","fontSize":12},"encoding":{"x":{"field":"bar","type":"nominal","bandPosition":0.5,"scale":{"domain":["W1","W2","W3","H1","H2","H3"]}},"y":{"datum":-0.72},"text":{"field":"c80"}}},
         {"mark":{"type":"text","fontSize":12},"encoding":{"x":{"field":"bar","type":"nominal","bandPosition":0.5,"scale":{"domain":["W1","W2","W3","H1","H2","H3"]}},"y":{"datum":-0.92},"text":{"field":"c86"}}},
         {"data":{"values":[{"b":"W1","t":"DCs","y":-0.25},{"b":"W1","t":"αCD40L","y":-0.52},{"b":"W1","t":"αCD80","y":-0.72},{"b":"W1","t":"αCD86","y":-0.92}]},"mark":{"type":"text","fontSize":12,"align":"right","dx":-9},"encoding":{"x":{"field":"b","type":"nominal","bandPosition":0.5,"scale":{"domain":["W1","W2","W3","H1","H2","H3"]}},"y":{"field":"y","type":"quantitative","scale":{"domain":[0,2]}},"text":{"field":"t"}}},
         {"data":{"values":[{"b":"W2","t":"WT"},{"b":"H2","t":"HM"}]},"mark":{"type":"text","fontSize":12},"encoding":{"x":{"field":"b","type":"nominal","bandPosition":0.5,"scale":{"domain":["W1","W2","W3","H1","H2","H3"]}},"y":{"datum":-0.25},"text":{"field":"t"}}},
         {"data":{"values":[{"b1":"W1","b2":"W3"},{"b1":"H1","b2":"H3"}]},"mark":{"type":"rule"},"encoding":{"x":{"field":"b1","type":"nominal","bandPosition":-0.1,"scale":{"domain":["W1","W2","W3","H1","H2","H3"]}},"x2":{"field":"b2","bandPosition":1.1},"y":{"datum":-0.08}}},
         {"data":{"values":[{"b1":"W1","b2":"W2","y":1.16,"y0":1.08},{"b1":"W1","b2":"W3","y":1.38,"y0":1.31},{"b1":"H1","b2":"H2","y":1.87,"y0":1.79},{"b1":"H1","b2":"H3","y":2.07,"y0":2.0}]},
          "layer":[
           {"mark":{"type":"rule"},"encoding":{"x":{"field":"b1","type":"nominal","bandPosition":0.5,"scale":{"domain":["W1","W2","W3","H1","H2","H3"]}},"x2":{"field":"b2","bandPosition":0.5},"y":{"field":"y","type":"quantitative","scale":{"domain":[0,2]}}}},
           {"mark":{"type":"rule"},"encoding":{"x":{"field":"b1","type":"nominal","bandPosition":0.5,"scale":{"domain":["W1","W2","W3","H1","H2","H3"]}},"y":{"field":"y","type":"quantitative","scale":{"domain":[0,2]}},"y2":{"field":"y0"}}},
           {"mark":{"type":"rule"},"encoding":{"x":{"field":"b2","type":"nominal","bandPosition":0.5,"scale":{"domain":["W1","W2","W3","H1","H2","H3"]}},"y":{"field":"y","type":"quantitative","scale":{"domain":[0,2]}},"y2":{"field":"y0"}}}
          ]},
         {"data":{"values":[{"b":"W2","t":"*","y":1.16},{"b":"H2","t":"**","y":1.87}]},"mark":{"type":"text","fontSize":12,"baseline":"alphabetic","dy":3},"encoding":{"x":{"field":"b","type":"nominal","bandPosition":-0.17,"scale":{"domain":["W1","W2","W3","H1","H2","H3"]}},"y":{"field":"y","type":"quantitative","scale":{"domain":[0,2]}},"text":{"field":"t"}}},
         {"data":{"values":[{"b":"W2","t":"*","y":1.38},{"b":"H2","t":"**","y":2.07}]},"mark":{"type":"text","fontSize":12,"baseline":"alphabetic","dy":3},"encoding":{"x":{"field":"b","type":"nominal","bandPosition":0.5,"scale":{"domain":["W1","W2","W3","H1","H2","H3"]}},"y":{"field":"y","type":"quantitative","scale":{"domain":[0,2]}},"text":{"field":"t"}}},
         {"data":{"values":[{"b":"W3","t":"Splenic DCs","y":2.28}]},"mark":{"type":"text","fontSize":13},"encoding":{"x":{"field":"b","type":"nominal","bandPosition":0.7,"scale":{"domain":["W1","W2","W3","H1","H2","H3"]}},"y":{"field":"y","type":"quantitative","scale":{"domain":[0,2]}},"text":{"field":"t"}}}
        ]}
      ]}
    ]},
    {"spacing":0,
     "vconcat":[
      {"width":1,"height":1,"data":{"name":"empty"},"mark":"point"},
      {"title":{"text":"H","dx":-35,"offset":-17},
       "width":67,"height":115,
       "data":{"values":[{"g":"WT","v":1.05,"err":1.33},{"g":"HM","v":2.38,"err":2.9}]},
       "layer":[
        {"mark":{"type":"rule"},"encoding":{"x":{"field":"g","type":"nominal","bandPosition":0.5,"scale":{"domain":["WT","HM"],"paddingInner":0.32,"paddingOuter":0.18},"axis":{"title":null,"labelFontSize":12,"ticks":false,"labelPadding":4}},"y":{"field":"v","type":"quantitative","scale":{"domain":[0,3]},"axis":{"title":"Relative Proliferation","values":[0,1,2,3]}},"y2":{"field":"err"}}},
        {"mark":{"type":"tick","size":13},"encoding":{"x":{"field":"g","type":"nominal","scale":{"domain":["WT","HM"]}},"y":{"field":"err","type":"quantitative","scale":{"domain":[0,3]}}}},
        {"mark":{"type":"bar"},"encoding":{"x":{"field":"g","type":"nominal","scale":{"domain":["WT","HM"]}},"y":{"field":"v","type":"quantitative","scale":{"domain":[0,3]}},"color":{"field":"g","type":"nominal","scale":{"domain":["WT","HM"],"range":["#111111","#e0181e"]},"legend":null}}},
        {"data":{"values":[{"b1":"WT","b2":"HM","y":2.96}]},"mark":{"type":"rule"},"encoding":{"x":{"field":"b1","type":"nominal","bandPosition":0.5,"scale":{"domain":["WT","HM"]}},"x2":{"field":"b2","bandPosition":0.5},"y":{"field":"y","type":"quantitative","scale":{"domain":[0,3]}}}},
        {"data":{"values":[{"t":"* *","y":2.96}]},"mark":{"type":"text","fontSize":12,"baseline":"alphabetic","dy":3},"encoding":{"y":{"field":"y","type":"quantitative","scale":{"domain":[0,3]}},"text":{"field":"t"}}},
        {"data":{"values":[{"b":"WT","t":"BM DCs","y":3.68}]},"mark":{"type":"text","fontSize":13},"encoding":{"x":{"field":"b","type":"nominal","bandPosition":0.63,"scale":{"domain":["WT","HM"]}},"y":{"field":"y","type":"quantitative","scale":{"domain":[0,3]}},"text":{"field":"t"}}}
       ]}
     ]}
   ]},
  {"spacing":0,
   "vconcat":[
    {"width":1,"height":1,"data":{"name":"empty"},"mark":"point"},
    {"title":{"text":"I","dx":-4,"offset":-2},
     "width":144,"height":108,
     "layer":[
      {"data":{"name":"I"},"mark":{"type":"line","interpolate":"step-after","strokeWidth":2},
       "encoding":{
        "x":{"field":"d","type":"quantitative","scale":{"domain":[0,88],"nice":false},"axis":{"values":[0,20,40,60,80],"title":"Days Post allo-HSCT","titleFontSize":13,"titlePadding":2}},
        "y":{"field":"s","type":"quantitative","scale":{"domain":[0,107],"nice":false},"axis":{"values":[0,50,100],"title":"Survival (%)","titleFontSize":13,"titlePadding":0,"labelPadding":1}},
        "color":{"field":"g","type":"nominal","scale":{"domain":["BMf","BMd","Tf","Td"],"range":["#000000","#000000","#1e3cff","#ff3c14"]},"legend":null}}},
      {"data":{"name":"I"},"transform":[{"filter":"datum.d > 0"}],"mark":{"type":"point","filled":true,"size":50,"opacity":1},
       "encoding":{
        "x":{"field":"d","type":"quantitative","scale":{"domain":[0,88],"nice":false}},
        "y":{"field":"s","type":"quantitative","scale":{"domain":[0,107],"nice":false}},
        "color":{"field":"g","type":"nominal","scale":{"domain":["BMf","BMd","Tf","Td"],"range":["#000000","#000000","#1e3cff","#ff3c14"]},"legend":null},
        "shape":{"field":"g","type":"nominal","scale":{"domain":["BMf","BMd","Tf","Td"],"range":["diamond","square","triangle-up","triangle-down"]},"legend":null}}},
      {"data":{"values":[{}]},"mark":{"type":"rule","strokeWidth":2},"encoding":{"x":{"datum":89},"y":{"datum":28},"y2":{"datum":72}}},
      {"data":{"values":[{}]},"mark":{"type":"text","text":"*","fontSize":12},"encoding":{"x":{"datum":93},"y":{"datum":52}}},
      {"data":{"values":[{}]},"mark":{"type":"rule","strokeWidth":2,"color":"#000000"},"encoding":{"x":{"datum":108.2},"x2":{"datum":116.7},"y":{"datum":88.5}}},
      {"data":{"values":[{}]},"mark":{"type":"point","shape":"diamond","filled":true,"size":55,"color":"#000000","opacity":1},"encoding":{"x":{"datum":112.5},"y":{"datum":88.5}}},
      {"data":{"values":[{}]},"mark":{"type":"text","text":"TCD-BM ➔ Atg16L1","fontSize":11,"align":"left"},"encoding":{"x":{"datum":118.6},"y":{"datum":88.5}}},
      {"data":{"values":[{}]},"mark":{"type":"text","text":"flox/flox","fontSize":7.5,"align":"left","dy":-4},"encoding":{"x":{"datum":179.5},"y":{"datum":88.5}}},
      {"data":{"values":[{}]},"mark":{"type":"rule","strokeWidth":2,"color":"#000000"},"encoding":{"x":{"datum":108.2},"x2":{"datum":116.7},"y":{"datum":74.9}}},
      {"data":{"values":[{}]},"mark":{"type":"point","shape":"square","filled":true,"size":55,"color":"#000000","opacity":1},"encoding":{"x":{"datum":112.5},"y":{"datum":74.9}}},
      {"data":{"values":[{}]},"mark":{"type":"text","text":"TCD-BM ➔ Atg16L1","fontSize":11,"align":"left"},"encoding":{"x":{"datum":118.6},"y":{"datum":74.9}}},
      {"data":{"values":[{}]},"mark":{"type":"text","text":"ΔCD11c","fontSize":7.5,"align":"left","dy":-4},"encoding":{"x":{"datum":179.5},"y":{"datum":74.9}}},
      {"data":{"values":[{}]},"mark":{"type":"rule","strokeWidth":2,"color":"#1e3cff"},"encoding":{"x":{"datum":108.2},"x2":{"datum":116.7},"y":{"datum":62.3}}},
      {"data":{"values":[{}]},"mark":{"type":"point","shape":"triangle-up","filled":true,"size":55,"color":"#1e3cff","opacity":1},"encoding":{"x":{"datum":112.5},"y":{"datum":62.3}}},
      {"data":{"values":[{}]},"mark":{"type":"text","text":"TCD-BM + T cells ➔ Atg16L1","fontSize":11,"align":"left"},"encoding":{"x":{"datum":118.6},"y":{"datum":62.3}}},
      {"data":{"values":[{}]},"mark":{"type":"text","text":"flox/flox","fontSize":7.5,"align":"left","dy":-4},"encoding":{"x":{"datum":206.5},"y":{"datum":62.3}}},
      {"data":{"values":[{}]},"mark":{"type":"rule","strokeWidth":2,"color":"#ff3c14"},"encoding":{"x":{"datum":108.2},"x2":{"datum":116.7},"y":{"datum":48.6}}},
      {"data":{"values":[{}]},"mark":{"type":"point","shape":"triangle-down","filled":true,"size":55,"color":"#ff3c14","opacity":1},"encoding":{"x":{"datum":112.5},"y":{"datum":48.6}}},
      {"data":{"values":[{}]},"mark":{"type":"text","text":"TCD-BM + T cells ➔ Atg16L1","fontSize":11,"align":"left"},"encoding":{"x":{"datum":118.6},"y":{"datum":48.6}}},
      {"data":{"values":[{}]},"mark":{"type":"text","text":"ΔCD11c","fontSize":7.5,"align":"left","dy":-4},"encoding":{"x":{"datum":206.5},"y":{"datum":48.6}}}
     ]}
   ]}
 ]}
]
}
